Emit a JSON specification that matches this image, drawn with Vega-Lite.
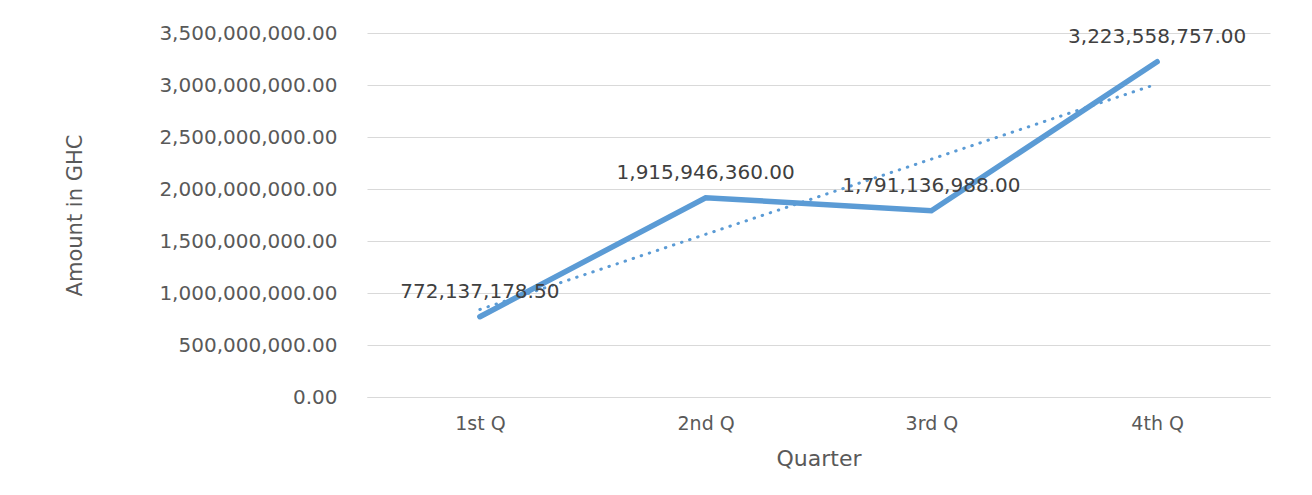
{
  "$schema": "https://vega.github.io/schema/vega-lite/v6.json",
  "width": 903,
  "height": 364,
  "autosize": {"type": "none"},
  "padding": {"left": 367, "top": 33, "right": 42, "bottom": 98},
  "background": "white",
  "config": {
    "view": {"stroke": null},
    "font": "DejaVu Sans"
  },
  "data": {
    "values": [
      {"quarter": "1st Q", "idx": 1, "amount": 772137178.50},
      {"quarter": "2nd Q", "idx": 2, "amount": 1915946360.00},
      {"quarter": "3rd Q", "idx": 3, "amount": 1791136988.00},
      {"quarter": "4th Q", "idx": 4, "amount": 3223558757.00}
    ]
  },
  "encoding": {
    "x": {
      "field": "idx",
      "type": "quantitative",
      "scale": {"domain": [0.5, 4.5], "nice": false, "zero": false},
      "axis": {
        "values": [1, 2, 3, 4],
        "labelExpr": "['', '1st Q', '2nd Q', '3rd Q', '4th Q'][datum.value]",
        "grid": false,
        "ticks": false,
        "domain": true,
        "domainColor": "#d9d9d9",
        "domainWidth": 1,
        "labelColor": "#595959",
        "labelFontSize": 19,
        "labelFont": "DejaVu Sans",
        "labelPadding": 17,
        "title": "Quarter",
        "titleFont": "DejaVu Sans",
        "titleFontSize": 22,
        "titleFontWeight": "normal",
        "titleColor": "#595959",
        "titleY": 61,
        "titleBaseline": "middle"
      }
    },
    "y": {
      "field": "amount",
      "type": "quantitative",
      "scale": {"domain": [0, 3500000000], "nice": false},
      "axis": {
        "values": [0, 500000000, 1000000000, 1500000000, 2000000000, 2500000000, 3000000000, 3500000000],
        "format": ",.2f",
        "grid": true,
        "gridColor": "#d9d9d9",
        "gridWidth": 1,
        "domain": false,
        "ticks": false,
        "labelColor": "#595959",
        "labelFontSize": 20,
        "labelFont": "DejaVu Sans",
        "labelPadding": 30,
        "title": "Amount in GHC",
        "titleFont": "DejaVu Sans",
        "titleFontSize": 21,
        "titleFontWeight": "normal",
        "titleColor": "#595959",
        "titleAngle": -90,
        "titleX": -292,
        "titleY": 182,
        "titleAlign": "center",
        "titleBaseline": "middle"
      }
    }
  },
  "layer": [
    {
      "transform": [
        {"regression": "amount", "on": "idx", "method": "linear"}
      ],
      "mark": {
        "type": "line",
        "color": "#5B9BD5",
        "strokeWidth": 3,
        "strokeDash": [0.5, 8],
        "strokeCap": "round"
      }
    },
    {
      "mark": {
        "type": "line",
        "color": "#5B9BD5",
        "strokeWidth": 5.5,
        "strokeCap": "round",
        "strokeJoin": "miter"
      }
    },
    {
      "mark": {
        "type": "text",
        "dy": -25,
        "baseline": "middle",
        "align": "center",
        "fontSize": 20,
        "font": "DejaVu Sans",
        "color": "#404040"
      },
      "encoding": {
        "text": {"field": "amount", "type": "quantitative", "format": ",.2f"}
      }
    }
  ]
}
